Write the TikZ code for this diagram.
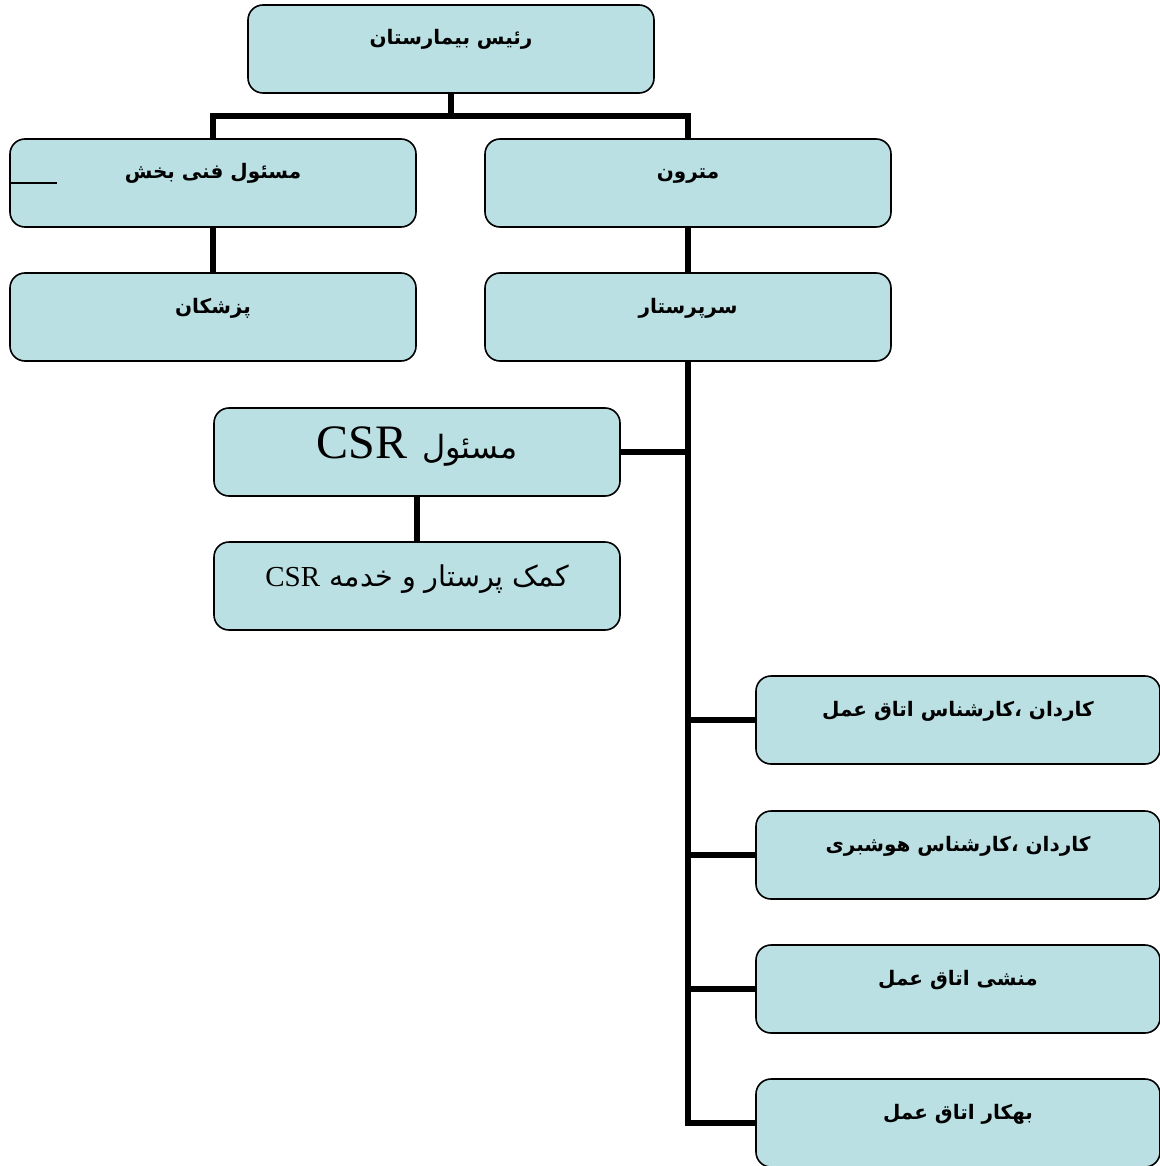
\documentclass[tikz,border=0pt]{standalone}
\usepackage{fontspec}
\newfontfamily\arabicfont[Script=Arabic]{DejaVu Sans}
\newfontfamily\latinserif{Liberation Serif}
\TeXXeTstate=1
\definecolor{jabe}{RGB}{187,224,227}

\begin{document}
\begin{tikzpicture}[
    x=0.5pt, y=-0.5pt,
    jabe/.style={
      rectangle,
      rounded corners=7.5pt,
      fill=jabe,
      draw=black,
      line width=0.8pt,
      inner sep=0pt,
      minimum width=203pt,
      text height=20pt,
      text depth=24pt,
      font=\arabicfont\bfseries\fontsize{10}{12}\selectfont},
    jabekoochak/.style={jabe, minimum width=202pt},
    khat/.style={line width=3pt}
    ]
  \useasboundingbox (0,0) rectangle (1160,1166);

  \node at (451,49) (raees) [jabe] {\beginR رئیس بیمارستان\endR};

  \node at (213,183) (fani) [jabe] {\beginR مسئول فنی بخش\endR};
  \node at (688,183) (matron) [jabe] {\beginR مترون\endR};

  \node at (213,317) (pezeshkan) [jabe] {\beginR پزشکان\endR};
  \node at (688,317) (sarparastar) [jabe] {\beginR سرپرستار\endR};

  \node at (417,452) (masulcsr) [jabe, text height=25pt, text depth=19pt,
    font=\fontsize{24}{26}\selectfont]
    {\beginR{\arabicfont\fontsize{16}{19}\selectfont مسئول} {\latinserif\beginL CSR\endL}\endR};
  \node at (417,586) (komak) [jabe, text height=22pt, text depth=22pt,
    font=\fontsize{14.5}{17}\selectfont]
    {\beginR{\arabicfont\fontsize{14.3}{17}\selectfont کمک پرستار و خدمه} {\latinserif\beginL CSR\endL}\endR};

  \node at (958,720) (kardanamal) [jabekoochak] {\beginR کاردان ،کارشناس اتاق عمل\endR};
  \node at (958,855) (kardanhoosh) [jabekoochak] {\beginR کاردان ،کارشناس هوشبری\endR};
  \node at (958,989) (monshi) [jabekoochak] {\beginR منشی اتاق عمل\endR};
  \node at (958,1123) (bahkar) [jabekoochak] {\beginR بهکار اتاق عمل\endR};

  \coordinate (shakhe) at (451,116);

  \draw [khat] (raees.south) -- (shakhe);
  \draw [khat] (fani.north) |- (shakhe) -| (matron.north);
  \draw [khat] (fani.south) -- (pezeshkan.north);
  \draw [khat] (matron.south) -- (sarparastar.north);
  \draw [khat] (masulcsr.south) -- (komak.north);

  \draw [khat] (sarparastar.south) |- (masulcsr.east);
  \draw [khat] (sarparastar.south) |- (kardanamal.west);
  \draw [khat] (sarparastar.south) |- (kardanhoosh.west);
  \draw [khat] (sarparastar.south) |- (monshi.west);
  \draw [khat] (sarparastar.south) |- (bahkar.west);

  \draw [line width=1pt] (fani.west) -- ++(48,0);

\end{tikzpicture}
\end{document}
